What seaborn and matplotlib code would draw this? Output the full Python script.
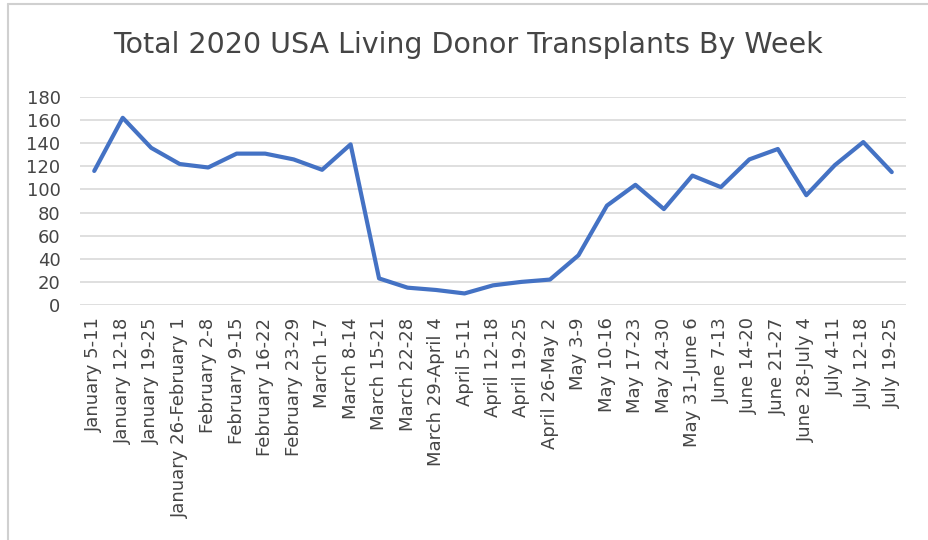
import matplotlib
matplotlib.use('Agg')
import matplotlib.pyplot as plt
from matplotlib.lines import Line2D
import seaborn as sns
import pandas as pd

weeks = ['January 5-11', 'January 12-18', 'January 19-25', 'January 26-February 1',
         'February 2-8', 'February 9-15', 'February 16-22', 'February 23-29',
         'March 1-7', 'March 8-14', 'March 15-21', 'March 22-28', 'March 29-April 4',
         'April 5-11', 'April 12-18', 'April 19-25', 'April 26-May 2', 'May 3-9',
         'May 10-16', 'May 17-23', 'May 24-30', 'May 31-June 6', 'June 7-13',
         'June 14-20', 'June 21-27', 'June 28-July 4', 'July 4-11', 'July 12-18',
         'July 19-25']
transplants = [116, 162, 136, 122, 119, 131, 131, 126, 117, 139,
               23, 15, 13, 10, 17, 20, 22, 43, 86, 104,
               83, 112, 102, 126, 135, 95, 121, 141, 115]
yticks = [0, 20, 40, 60, 80, 100, 120, 140, 160, 180]

df = pd.DataFrame({'week': weeks, 'n': transplants})

sns.set_style('white')
plt.rcParams['font.family'] = ['DejaVu Sans']

fig = plt.figure(figsize=(9.29, 5.40), dpi=100)
ax = fig.add_axes([80 / 929, 1 - 305 / 540, 826 / 929, 208 / 540])

sns.lineplot(data=df, x='week', y='n', sort=False, color='#4472C4', linewidth=3, ax=ax)

ax.set_xlim(-0.5, len(weeks) - 0.5)
ax.set_ylim(0, 180)
ax.set_yticks(yticks)
ax.yaxis.grid(True, color='#D9D9D9', linewidth=1.2)
ax.set_axisbelow(True)
for s in ax.spines.values():
    s.set_visible(False)
ax.set_xlabel('')
ax.set_ylabel('')
ax.set_xticks(range(len(weeks)))
ax.set_xticklabels(weeks, rotation=90, fontsize=13, color='#454545')
ax.tick_params(axis='y', labelsize=13, labelcolor='#454545', length=0, pad=14)
ax.tick_params(axis='x', length=0, pad=9)

fig.text(468 / 929, 1 - 45 / 540, 'Total 2020 USA Living Donor Transplants By Week',
         ha='center', va='center', fontsize=20.5, color='#454545')

# chart frame (left and top edges visible)
fig.add_artist(Line2D([8 / 929, 8 / 929], [0, 1 - 4 / 540], transform=fig.transFigure,
                      color='#D0D0D0', linewidth=1.5))
fig.add_artist(Line2D([8 / 929, 1], [1 - 4 / 540, 1 - 4 / 540], transform=fig.transFigure,
                      color='#D0D0D0', linewidth=1.5))

fig.savefig('out.png', dpi=100)
